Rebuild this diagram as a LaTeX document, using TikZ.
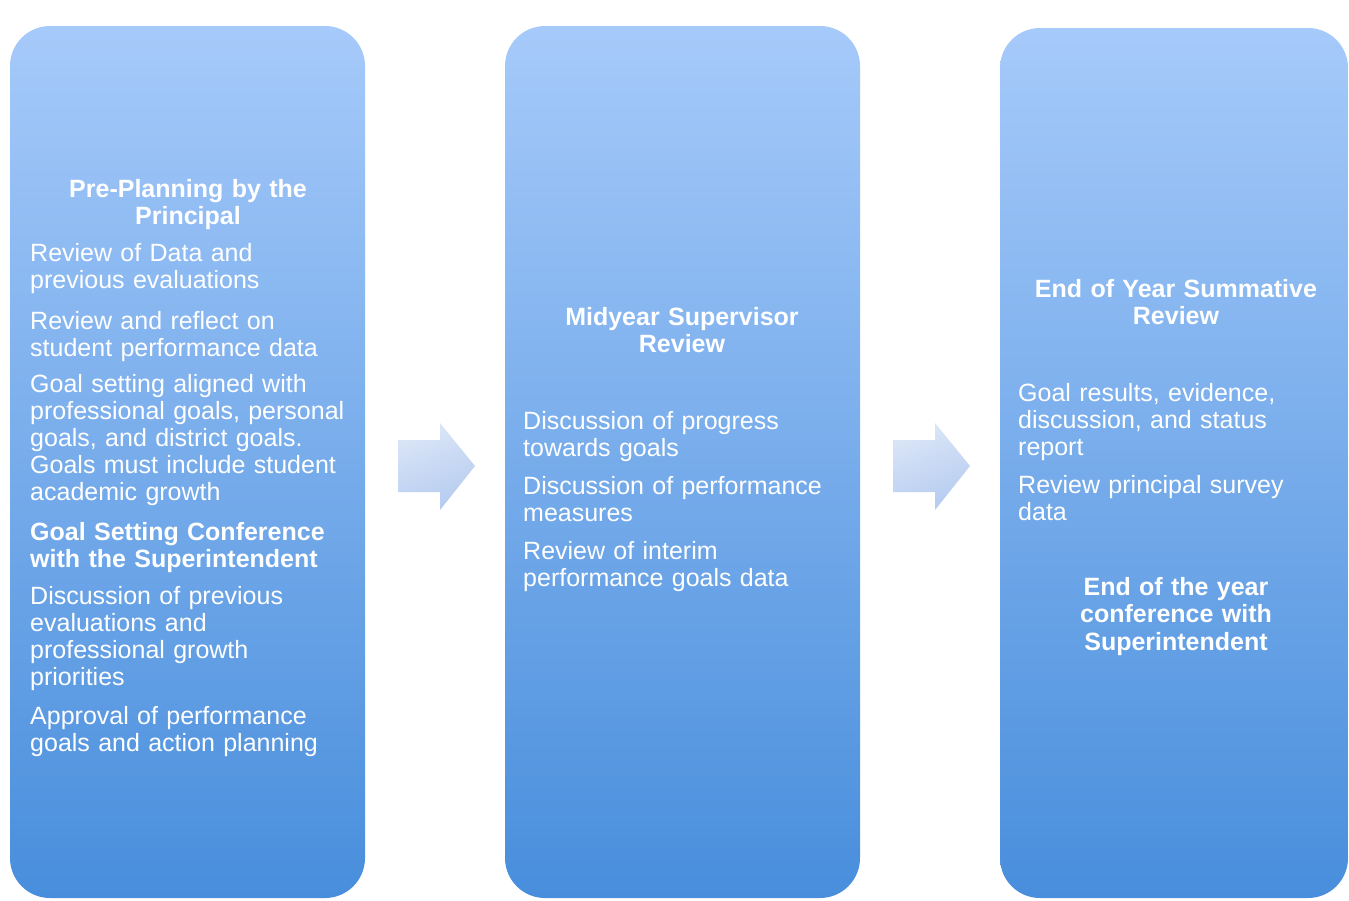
\documentclass[tikz,border=0pt]{standalone}
\usepackage{fontspec}
\setmainfont{Liberation Sans}
\usetikzlibrary{positioning}
\definecolor{boxtop}{RGB}{166,202,250}
\definecolor{boxbot}{RGB}{72,142,220}
\definecolor{arrowtop}{RGB}{220,230,247}
\definecolor{arrowbot}{RGB}{180,203,240}
\tikzset{
    stagebox/.style = {rectangle, rounded corners=40pt, top color=boxtop, bottom color=boxbot, minimum width=355pt, minimum height=872pt, inner sep=0pt},
    heading/.style = {text width=340pt, align=center, inner sep=0pt, anchor=base, text=white, font=\fontsize{25}{27.5}\selectfont\bfseries},
    itemtext/.style = {text width=340pt, align=left, inner sep=0pt, anchor=base west, text=white, font=\fontsize{25}{27}\selectfont},
    itembold/.style = {itemtext, font=\fontsize{25}{27}\selectfont\bfseries},
    stepfill/.style = {top color=arrowtop, bottom color=arrowbot, shading angle=20}
}
\begin{document}
\begin{tikzpicture}[x=1pt,y=-1pt]
\useasboundingbox (0,0) rectangle (1349,900);

% the three stages
\node[stagebox] at (187.5,462) (pre) {};
\node[stagebox] at (682.5,462) (mid) {};
\node[stagebox, minimum width=348pt, minimum height=870pt] at (1174,463) (endyr) {};

% block arrows between the stages
\coordinate (a1) at (398,466);
\coordinate (a2) at (893,466);
\foreach \a in {a1,a2}
  \shade[stepfill] (\a) ++(0,-26) -- ++(42,0) -- ++(0,-17) -- ++(35,43)
        -- ++(-35,44) -- ++(0,-18) -- ++(-42,0) -- cycle;

% pre-planning
\node[heading] at (188,197) (pre-title) {Pre-Planning by the\\Principal};
\node[itemtext] at (30,261) (pre-data) {Review of Data and\\previous evaluations};
\node[itemtext] at (30,329) (pre-reflect) {Review and reflect on\\student performance data};
\node[itemtext] at (30,392) (pre-goals) {Goal setting aligned with\\professional goals, personal\\goals, and district goals.\\Goals must include student\\academic growth};
\node[itembold] at (30,540) (pre-conf) {Goal Setting Conference\\with the Superintendent};
\node[itemtext] at (30,604) (pre-discuss) {Discussion of previous\\evaluations and\\professional growth\\priorities};
\node[itemtext] at (30,724) (pre-approve) {Approval of performance\\goals and action planning};

% midyear
\node[heading] at (682,325) (mid-title) {Midyear Supervisor\\Review};
\node[itemtext] at (523,429) (mid-progress) {Discussion of progress\\towards goals};
\node[itemtext] at (523,494) (mid-measures) {Discussion of performance\\measures};
\node[itemtext] at (523,559) (mid-interim) {Review of interim\\performance goals data};

% end of year
\node[heading] at (1176,297) (end-title) {End of Year Summative\\Review};
\node[itemtext] at (1018,401) (end-results) {Goal results, evidence,\\discussion, and status\\report};
\node[itemtext] at (1018,493) (end-survey) {Review principal survey\\data};
\node[heading] at (1176,595) (end-conf) {End of the year\\conference with\\Superintendent};

\end{tikzpicture}
\end{document}
